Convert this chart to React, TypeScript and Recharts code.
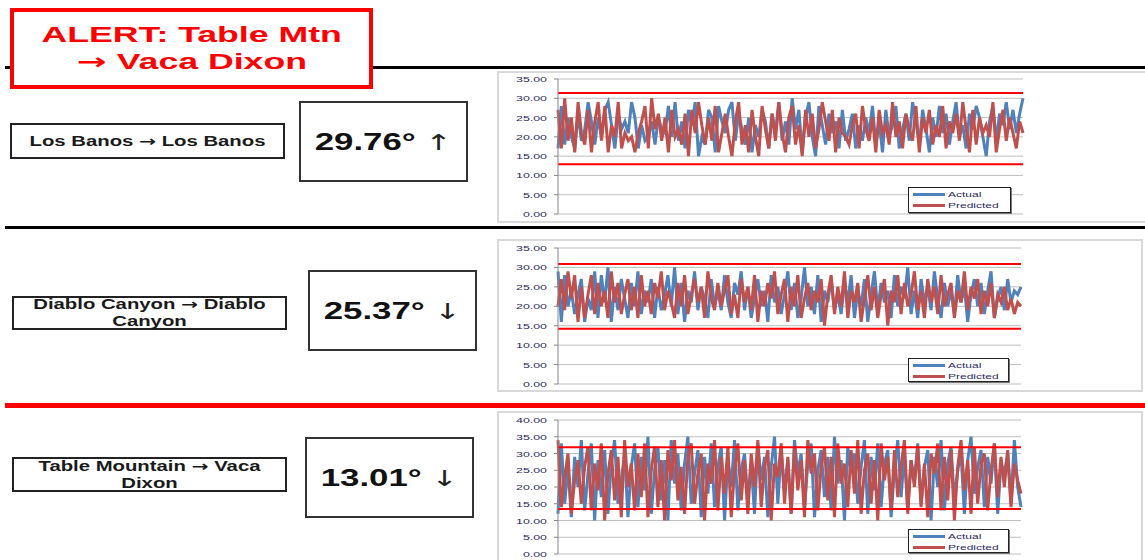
import { LineChart, Line, XAxis, YAxis, CartesianGrid, ReferenceLine, Legend } from 'recharts'

// Los Banos -> Los Banos
const losBanosActual = [17, 28, 18, 25, 20, 17, 26, 19, 22, 29, 24, 18, 25, 20, 27, 29, 23, 17, 26, 22, 24, 21, 29, 25, 17, 23, 19, 20, 24, 18, 25, 22, 21, 28, 20, 29, 19, 24, 17, 27, 23, 29, 15, 20, 18, 27, 25, 16, 28, 24, 21, 27, 29, 19, 26, 22, 18, 25, 16, 23, 20, 27, 24, 17, 26, 21, 29, 19, 24, 18, 30, 22, 27, 16, 25, 29, 20, 15, 28, 23, 18, 26, 21, 24, 17, 27, 19, 22, 26, 17, 23, 19, 25, 21, 28, 18, 24, 16, 27, 20, 23, 28, 17, 22, 26, 19, 29, 24, 18, 27, 22, 16, 25, 20, 28, 21, 26, 18, 24, 29, 20, 23, 17, 26, 22, 28, 25, 20, 15, 24, 28, 19, 26, 23, 29, 22, 27, 21, 26, 30]
const losBanosPredicted = [27, 17, 30, 19, 25, 16, 29, 21, 18, 27, 16, 24, 29, 19, 28, 16, 23, 20, 29, 17, 21, 19, 20, 16, 21, 24, 28, 17, 30, 22, 26, 19, 25, 16, 27, 20, 22, 18, 26, 15, 27, 21, 29, 23, 18, 25, 19, 28, 16, 21, 26, 20, 15, 24, 29, 18, 23, 16, 27, 20, 15, 28, 22, 17, 26, 19, 29, 21, 16, 25, 28, 18, 23, 15, 27, 20, 26, 17, 22, 29, 24, 19, 27, 16, 25, 21, 20, 18, 23, 26, 17, 28, 22, 19, 25, 16, 27, 21, 23, 18, 29, 20, 24, 17, 26, 22, 19, 28, 16, 25, 21, 27, 18, 23, 20, 28, 17, 24, 21, 26, 19, 29, 22, 16, 27, 18, 25, 21, 23, 20, 29, 16, 22, 27, 19, 25, 21, 17, 24, 21]

// Diablo Canyon -> Diablo Canyon
const diabloActual = [29, 16, 28, 20, 24, 18, 23, 27, 16, 22, 19, 29, 17, 28, 21, 30, 16, 25, 19, 27, 22, 17, 26, 20, 29, 18, 24, 21, 27, 17, 25, 19, 23, 28, 20, 30, 18, 26, 16, 24, 21, 29, 19, 25, 22, 17, 27, 20, 24, 19, 28, 21, 17, 26, 23, 29, 19, 25, 17, 22, 27, 20, 24, 16, 28, 21, 25, 18, 23, 29, 19, 26, 17, 22, 30, 20, 25, 18, 28, 16, 24, 21, 27, 19, 23, 18, 26, 21, 28, 17, 24, 20, 27, 16, 23, 29, 19, 26, 21, 24, 17, 28, 20, 25, 22, 30, 18, 24, 17, 27, 21, 25, 19, 29, 22, 17, 26, 20, 24, 18, 28, 21, 25, 16, 23, 27, 20, 26, 18, 24, 29, 17, 22, 25, 19, 27, 21, 24, 23, 25]
const diabloPredicted = [20, 27, 19, 29, 22, 28, 16, 25, 17, 23, 28, 18, 26, 20, 24, 17, 29, 21, 26, 18, 23, 27, 19, 25, 17, 28, 20, 24, 18, 26, 22, 29, 19, 24, 21, 17, 26, 20, 28, 18, 23, 27, 21, 25, 17, 29, 22, 19, 26, 20, 24, 28, 18, 23, 17, 27, 21, 25, 19, 28, 16, 24, 20, 26, 22, 29, 18, 23, 27, 16, 25, 20, 28, 17, 22, 26, 19, 24, 21, 27, 15, 23, 28, 18, 25, 20, 29, 17, 24, 21, 26, 16, 22, 28, 19, 25, 17, 23, 27, 15, 24, 21, 28, 18, 26, 20, 23, 29, 19, 24, 17, 27, 21, 25, 18, 28, 20, 23, 26, 17, 24, 21, 29, 19, 25, 22, 27, 18, 24, 20, 26, 17, 23, 21, 25, 19, 22, 18, 21, 20]

// Table Mountain -> Vaca Dixon
const tableMtnActual = [12, 33, 15, 26, 11, 29, 20, 34, 13, 24, 33, 10, 28, 17, 31, 12, 27, 34, 15, 22, 30, 11, 26, 33, 14, 29, 19, 35, 12, 25, 32, 16, 28, 10, 34, 21, 30, 13, 27, 35, 15, 24, 31, 11, 29, 18, 33, 14, 26, 32, 10, 28, 20, 34, 13, 25, 30, 16, 27, 12, 33, 22, 29, 11, 26, 35, 15, 31, 19, 28, 12, 34, 24, 30, 14, 27, 33, 11, 25, 31, 17, 29, 13, 35, 21, 28, 10, 32, 24, 30, 15, 26, 34, 12, 29, 19, 33, 14, 27, 31, 11, 25, 34, 17, 30, 13, 28, 22, 33, 15, 26, 31, 10, 29, 20, 34, 13, 27, 32, 16, 25, 30, 12, 28, 35, 18, 26, 31, 14, 29, 21, 33, 12, 27, 24, 30, 15, 34, 20, 14]
const tableMtnPredicted = [34, 14, 23, 30, 12, 22, 28, 15, 26, 32, 13, 27, 19, 33, 10, 24, 31, 16, 29, 11, 34, 20, 27, 13, 30, 17, 33, 11, 25, 32, 14, 28, 10, 31, 22, 34, 16, 26, 12, 29, 33, 15, 24, 30, 10, 27, 21, 34, 13, 29, 18, 32, 11, 25, 33, 16, 28, 12, 30, 20, 34, 14, 26, 31, 10, 27, 23, 33, 15, 29, 12, 32, 19, 28, 11, 34, 24, 30, 13, 26, 32, 16, 29, 11, 33, 21, 27, 14, 31, 18, 34, 12, 25, 30, 15, 28, 10, 33, 22, 29, 13, 31, 17, 26, 34, 12, 28, 20, 32, 14, 27, 11, 30, 24, 33, 13, 29, 16, 31, 10, 26, 34, 19, 28, 12, 32, 15, 27, 30, 13, 25, 33, 17, 29, 20, 31, 14, 27, 22, 18]

const ticks35 = [0, 5, 10, 15, 20, 25, 30, 35]
const ticks40 = [0, 5, 10, 15, 20, 25, 30, 35, 40]

// upper / lower limit lines per route
const upperLimits = [31.4, 30.9, 31.9]
const lowerLimits = [12.9, 14.2, 13.4]

// route label: [from, to]
const routeFrom = ['Los Banos', 'Diablo Canyon', 'Table Mountain']
const routeTo = ['Los Banos', 'Diablo Canyon', 'Vaca Dixon']
const readings = ['29.76°', '25.37°', '13.01°']
const trends = ['↑', '↓', '↓']

const actualColor = '#4f81bd'
const predictedColor = '#c0504d'
const limitColor = '#ff0000'
const textNavy = '#2b2b63'
const STRETCH = 1.45

function zip(actual: number[], predicted: number[]) {
  const n = Math.min(actual.length, predicted.length)
  return actual.slice(0, n).map((a, i) => ({ idx: i + 1, actual: a, predicted: predicted[i] }))
}

function Arrow() {
  return <span style={{ fontFamily: '"DejaVu Sans", sans-serif', fontWeight: 'bold' }}>→</span>
}

function ValueTick(props: any) {
  const { x, y, payload } = props
  return (
    <g transform={`translate(${x},${y})`}>
      <text x={0} y={0} dy={3} textAnchor="end" fontSize={8} fill={textNavy} transform="scale(1.55,1)">
        {Number(payload.value).toFixed(2)}
      </text>
    </g>
  )
}

function LegendBox(props: any) {
  const items = props.payload ?? []
  return (
    <div style={{
      width: '100%', height: '100%', boxSizing: 'border-box', border: '1px solid #222',
      boxShadow: '1px 1px 0 #777', background: '#fff', padding: '1px 0 0 4px',
    }}>
      {items.map((item: any) => (
        <div key={item.value} style={{ display: 'flex', alignItems: 'center', height: 11 }}>
          <span style={{ width: 32, height: 2.5, background: item.color }} />
          <span style={{
            marginLeft: 3, fontSize: 8, lineHeight: '10px', color: textNavy, display: 'inline-block',
            transform: 'scaleX(1.5)', transformOrigin: 'left center',
          }}>{item.value}</span>
        </div>
      ))}
    </div>
  )
}

interface ChartProps {
  actual: number[]
  predicted: number[]
  ticks: number[]
  upper: number
  lower: number
  top: number
  width: number
  height: number
  margin: { top: number; right: number; bottom: number; left: number }
  legend: { left: number; top: number; width: number; height: number }
}

function RouteChart(p: ChartProps) {
  const rows = zip(p.actual, p.predicted)
  const yMax = p.ticks[p.ticks.length - 1]
  return (
    <div style={{ position: 'absolute', left: 497, top: p.top, width: p.width, height: p.height }}>
      <LineChart width={p.width} height={p.height} data={rows} margin={p.margin}>
        <CartesianGrid vertical={false} stroke="#bfbfbf" />
        <XAxis dataKey="idx" hide />
        <YAxis
          width={61}
          domain={[0, yMax]}
          ticks={p.ticks}
          interval={0}
          tick={ValueTick}
          tickSize={4}
          tickMargin={7}
          axisLine={{ stroke: '#868686' }}
          tickLine={{ stroke: '#868686' }}
        />
        <Line type="linear" dataKey="actual" name="Actual" stroke={actualColor} strokeWidth={3} dot={false} isAnimationActive={false} />
        <Line type="linear" dataKey="predicted" name="Predicted" stroke={predictedColor} strokeWidth={3} dot={false} isAnimationActive={false} />
        <ReferenceLine y={p.upper} stroke={limitColor} strokeWidth={2} />
        <ReferenceLine y={p.lower} stroke={limitColor} strokeWidth={2} />
        <Legend
          layout="vertical"
          align="center"
          verticalAlign="middle"
          content={LegendBox}
          wrapperStyle={{ position: 'absolute', left: p.legend.left, top: p.legend.top, width: p.legend.width, height: p.legend.height }}
        />
      </LineChart>
    </div>
  )
}

// every word gets its own span so no single text run spans two lines when the label wraps
function Words({ text }: { text: string }) {
  return <>{text.split(' ').map((w, i) => <span key={i}>{i > 0 ? ' ' : ''}{w}</span>)}</>
}

function RouteLabel({ from, to, left, top, width, height }: { from: string; to: string; left: number; top: number; width: number; height: number }) {
  return (
    <div style={{
      position: 'absolute', left, top, width, height, boxSizing: 'border-box', border: '2px solid #222',
      background: '#fff', display: 'flex', alignItems: 'center',
    }}>
      <div style={{
        width: (width - 4) / STRETCH, transform: `scaleX(${STRETCH})`, transformOrigin: 'left center',
        textAlign: 'center', fontWeight: 'bold', fontSize: 14, lineHeight: '17px', color: '#1a1a1a',
      }}><Words text={from} /> <Arrow /> <Words text={to} /></div>
    </div>
  )
}

function Reading({ value, trend, left, top }: { value: string; trend: string; left: number; top: number }) {
  return (
    <div style={{
      position: 'absolute', left, top, width: 169, height: 81, boxSizing: 'border-box', border: '2px solid #333',
      background: '#fff', display: 'flex', alignItems: 'center', justifyContent: 'center',
    }}>
      <span style={{ display: 'inline-block', transform: `scaleX(${STRETCH})`, fontSize: 24, color: '#111', whiteSpace: 'nowrap' }}>
        <b>{value}</b>{' '}
        <span style={{ fontWeight: 'normal', color: '#222', fontFamily: '"DejaVu Sans", sans-serif', fontSize: 22 }}>{trend}</span>
      </span>
    </div>
  )
}

function Rule({ top, thick, color }: { top: number; thick: number; color: string }) {
  return <div style={{ position: 'absolute', left: 5, top, width: 1140, height: thick, background: color }} />
}

function PanelFrame({ top, width, height }: { top: number; width: number; height: number }) {
  return (
    <div style={{
      position: 'absolute', left: 497, top, width, height, boxSizing: 'border-box', border: '2px solid #d9d9d9',
    }} />
  )
}

export default function App() {
  const alertLine = { display: 'inline-block', transform: 'scaleX(1.62)' }
  return (
    <div style={{
      position: 'absolute', left: 0, top: 0, width: 1145, height: 560, overflow: 'hidden', background: '#fff',
      fontFamily: '"Liberation Sans", Arial, sans-serif',
    }}>
      <Rule top={66} thick={3} color="#000" />
      <Rule top={226} thick={3} color="#000" />
      <Rule top={403} thick={5} color="#ff0000" />

      <div style={{
        position: 'absolute', left: 10, top: 8, width: 363, height: 81, boxSizing: 'border-box',
        border: '4px solid #ff0000', background: '#fff', color: '#ff0000', fontWeight: 'bold', fontSize: 22,
        lineHeight: '27px', textAlign: 'center', paddingTop: 9,
      }}>
        <div><span style={alertLine}>ALERT: Table Mtn</span></div>
        <div><span style={alertLine}><Arrow /> Vaca Dixon</span></div>
      </div>

      <RouteLabel from={routeFrom[0]} to={routeTo[0]} left={10} top={123} width={275} height={36} />
      <Reading value={readings[0]} trend={trends[0]} left={299} top={101} />
      <PanelFrame top={71} width={660} height={152} />
      <RouteChart
        actual={losBanosActual} predicted={losBanosPredicted} ticks={ticks35}
        upper={upperLimits[0]} lower={lowerLimits[0]}
        top={72} width={648} height={151}
        margin={{ top: 7, right: 122, bottom: 9, left: 0 }}
        legend={{ left: 411, top: 115, width: 103, height: 26 }}
      />

      <RouteLabel from={routeFrom[1]} to={routeTo[1]} left={12} top={296} width={275} height={34} />
      <Reading value={readings[1]} trend={trends[1]} left={308} top={270} />
      <PanelFrame top={239} width={646} height={153} />
      <RouteChart
        actual={diabloActual} predicted={diabloPredicted} ticks={ticks35}
        upper={upperLimits[1]} lower={lowerLimits[1]}
        top={239} width={646} height={153}
        margin={{ top: 9, right: 122, bottom: 8, left: 0 }}
        legend={{ left: 411, top: 119, width: 101, height: 24 }}
      />

      <RouteLabel from={routeFrom[2]} to={routeTo[2]} left={12} top={457} width={275} height={35} />
      <Reading value={readings[2]} trend={trends[2]} left={305} top={437} />
      <PanelFrame top={411} width={646} height={170} />
      <RouteChart
        actual={tableMtnActual} predicted={tableMtnPredicted} ticks={ticks40}
        upper={upperLimits[2]} lower={lowerLimits[2]}
        top={411} width={646} height={152}
        margin={{ top: 9, right: 122, bottom: 9, left: 0 }}
        legend={{ left: 411, top: 118, width: 101, height: 24 }}
      />
    </div>
  )
}
